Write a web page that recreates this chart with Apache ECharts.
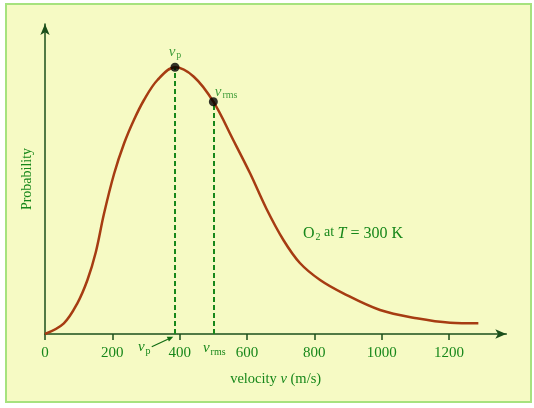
<!DOCTYPE html>
<html><head><meta charset="utf-8">
<script src="https://cdn.jsdelivr.net/npm/echarts@6/dist/echarts.min.js"></script>
<style>html,body{margin:0;padding:0;background:#fff}#c{width:534px;height:408px}</style>
</head><body><div id="c"></div>
<script>
// ---- data ----
const velocity = [0,56,96,126,151,175,205,235,264,294,334,386,442,500,559,609,658,708,757,817,886,995,1104,1203,1287];
const probability = [0,0.107,0.307,0.54,0.82,1.20,1.60,1.907,2.14,2.34,2.54,2.667,2.573,2.323,1.94,1.607,1.25,0.94,0.71,0.54,0.407,0.24,0.157,0.113,0.107];
const markerSubscripts = ['p','rms'];
const markerVelocity = [386, 500];
const markerProbability = [2.667, 2.323];
const xTickValues = [0,200,400,600,800,1000,1200];
const xAxisName = 'velocity {i|v} (m/s)';
const yAxisName = 'Probability';
const curveLabel = '{n|O}{s|2}{a| at }{i|T}{n| = 300 K}';

const FONT = 'Liberation Serif';
const GREEN = '#17871a';
const AXIS = '#1b4f1b';
function tok(size, italic, lh, extra){
  return Object.assign({fontFamily:FONT, fontStyle: italic?'italic':'normal', fontSize:size,
    color:GREEN, fill:GREEN, lineHeight:lh}, extra||{});
}
const richSub = {
  v:tok(15,true,16,{verticalAlign:'top'}),
  n:tok(16,false,17,{verticalAlign:'top'}),
  i:tok(16,true,17,{verticalAlign:'top'}),
  a:tok(14,false,17,{verticalAlign:'top'}),
  s:tok(10,false,10,{padding:[8,0,0,1], verticalAlign:'bottom'})
};

const chart = echarts.init(document.getElementById('c'));
chart.setOption({
  backgroundColor:'#ffffff',
  animation:false,
  grid:{left:45, right:27.7, top:24, bottom:74},
  xAxis:{
    type:'value', min:0, max:1370, interval:200,
    name:xAxisName, nameLocation:'middle', nameGap:38,
    nameTextStyle:{color:GREEN, fontFamily:FONT, fontSize:14.5,
      rich:{i:{fontFamily:FONT, fontStyle:'italic', fontSize:14.5, color:GREEN}}},
    axisLine:{show:true, symbol:['none','arrow'], symbolSize:[7,11], lineStyle:{color:AXIS, width:1.5}},
    axisTick:{show:true, inside:false, length:6, customValues:xTickValues, lineStyle:{color:AXIS, width:1.5}},
    axisLabel:{color:GREEN, fontFamily:FONT, fontSize:15, margin:12, customValues:xTickValues,
      formatter:v=>String(v)},
    splitLine:{show:false}
  },
  yAxis:{
    type:'value', min:0, max:3.1,
    name:yAxisName, nameLocation:'middle', nameGap:11, nameRotate:90,
    nameTextStyle:{color:GREEN, fontFamily:FONT, fontSize:14},
    axisLine:{show:true, symbol:['none','arrow'], symbolSize:[7,11], lineStyle:{color:AXIS, width:1.5}},
    axisTick:{show:false}, axisLabel:{show:false}, splitLine:{show:false}
  },
  series:[
    {type:'line', data:velocity.map((v,i)=>[v,probability[i]]), smooth:0.35, symbol:'none',
     lineStyle:{color:'#a63c12', width:2.5}, z:3},
    {type:'scatter', symbolSize:9, itemStyle:{color:'#000'}, z:5,
     data:markerVelocity.map((v,i)=>({
       value:[v, markerProbability[i]],
       label:{show:true, formatter:'{v|v}{s|'+markerSubscripts[i]+'}', rich:richSub,
         position: i===0 ? 'top' : 'right', distance: i===0 ? 2 : 0,
         offset: i===0 ? [0,0] : [-3,-9]}
     })),
     markLine:{silent:true, symbol:'none', label:{show:false},
       lineStyle:{type:[5,3], color:GREEN, width:2},
       data:markerVelocity.map((v,i)=>[{coord:[v,0]},{coord:[v,markerProbability[i]]}])}
    }
  ]
});

// annotations positioned through the chart's own coordinate system
const px = (v,p)=>chart.convertToPixel({gridIndex:0},[v,p]);
const vpLab = px(276,-0.14), vrmsLab = px(469,-0.15), curveLab = px(766,1.0);
const a1 = px(317,-0.127), a2 = px(381,-0.027);
const dx=a2[0]-a1[0], dy=a2[1]-a1[1], L=Math.hypot(dx,dy), ux=dx/L, uy=dy/L;
const hl=6, hw=2.6;
const base=[a2[0]-ux*hl, a2[1]-uy*hl];
chart.setOption({
  graphic:[
    {type:'rect', z:-10, silent:true, shape:{x:6,y:4,width:525,height:398},
     style:{fill:'#f6fac4', stroke:'#a6e27e', lineWidth:2}},
    {type:'text', x:vpLab[0], y:vpLab[1], z:10,
     style:{text:'{v|v}{s|p}', rich:richSub, fill:GREEN, align:'left', verticalAlign:'middle'}},
    {type:'text', x:vrmsLab[0], y:vrmsLab[1], z:10,
     style:{text:'{v|v}{s|rms}', rich:richSub, fill:GREEN, align:'left', verticalAlign:'middle'}},
    {type:'text', x:curveLab[0], y:curveLab[1], z:10,
     style:{text:curveLabel, rich:richSub, fill:GREEN, align:'left', verticalAlign:'middle'}},
    {type:'line', z:10, shape:{x1:a1[0],y1:a1[1],x2:base[0],y2:base[1]}, style:{stroke:'#0f6b12', lineWidth:1.2}},
    {type:'polygon', z:10, shape:{points:[a2,[base[0]-uy*hw, base[1]+ux*hw],[base[0]+uy*hw, base[1]-ux*hw]]},
     style:{fill:'#0f6b12'}}
  ]
});
</script></body></html>
